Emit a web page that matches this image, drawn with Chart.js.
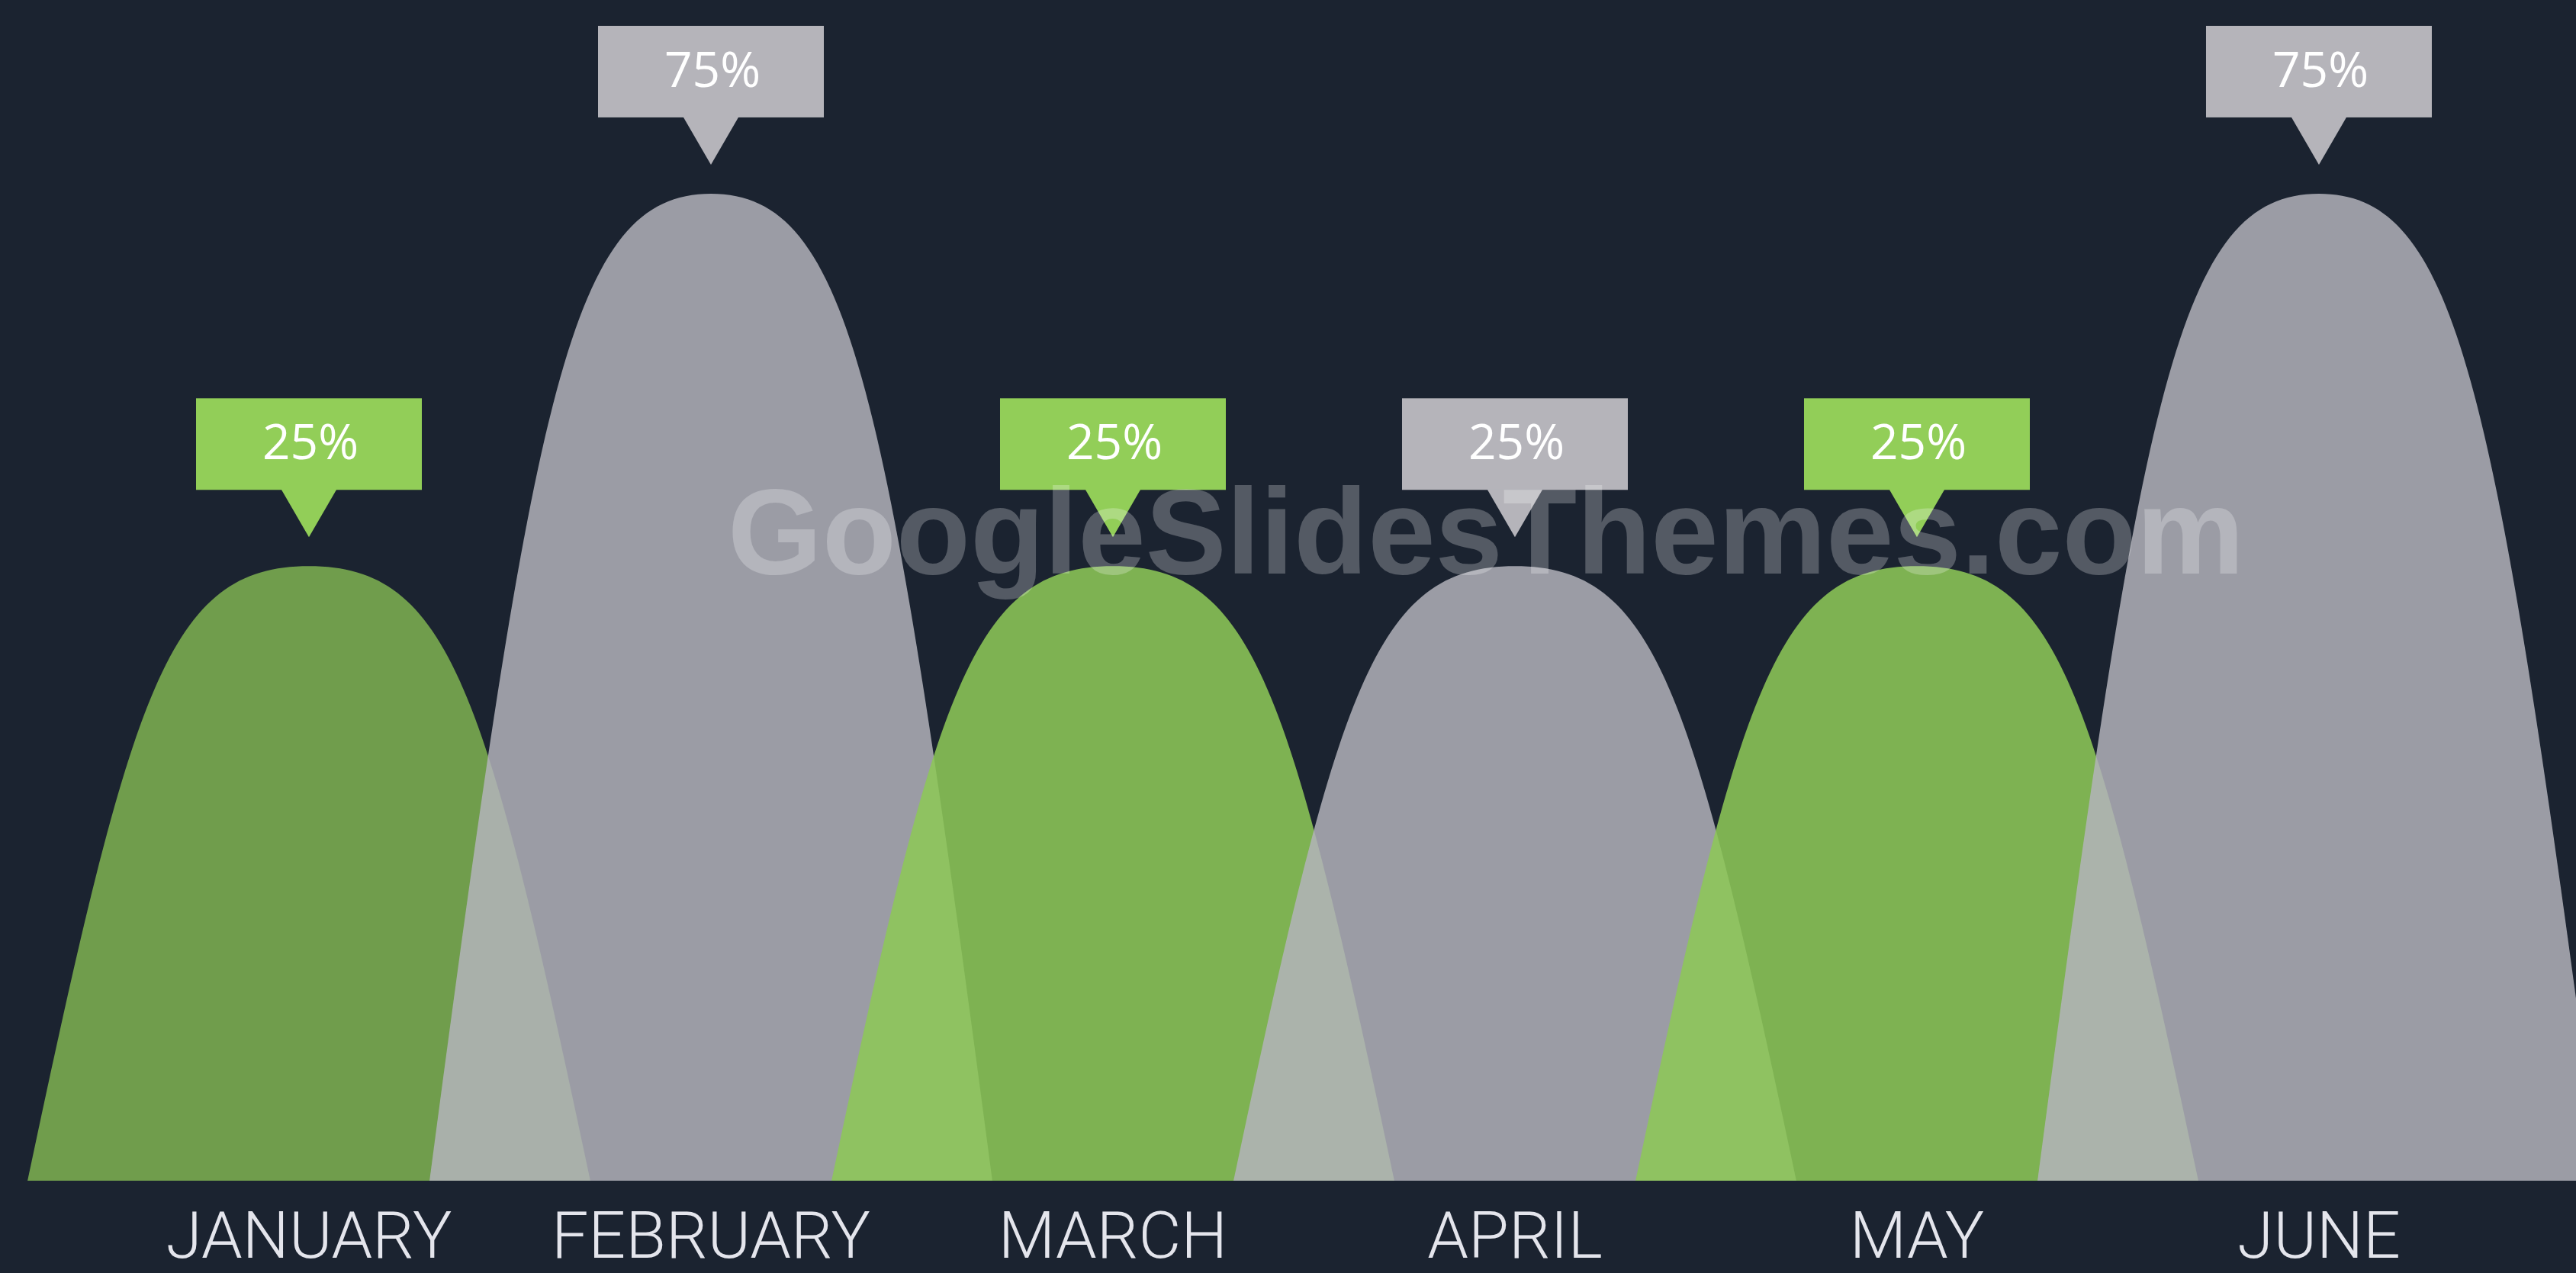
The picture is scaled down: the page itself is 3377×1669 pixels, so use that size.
<!DOCTYPE html>
<html>
<head>
<meta charset="utf-8">
<title>Monthly share</title>
<script src="https://cdn.jsdelivr.net/npm/chart.js@4.4.1/dist/chart.umd.min.js"></script>
<style>
    html, body { margin: 0; padding: 0; background: #1b2330; }
    #wrap { position: relative; width: 3377px; height: 1669px; }
</style>
</head>
<body>
<div id="wrap"><canvas id="bellChart"></canvas></div>

<script>
/* =========================
   DATA
========================= */

const months = ["JANUARY", "FEBRUARY", "MARCH", "APRIL", "MAY", "JUNE"];
const shares = [25, 75, 25, 25, 25, 75];

/* =========================
   STYLE
========================= */

const bellColors = [
    "rgba(141, 200, 87, 0.74)",
    "rgba(180, 180, 188, 0.84)",
    "rgba(141, 200, 87, 0.87)",
    "rgba(180, 180, 188, 0.84)",
    "rgba(141, 200, 87, 0.87)",
    "rgba(180, 180, 188, 0.84)"
];
const calloutColors = ["#92ce58", "#b5b4ba", "#92ce58", "#b5b4ba", "#92ce58", "#b5b4ba"];

const X_MIN = -0.7685;
const X_MAX = 5.6395;
const Y_MIN = -57.5;
const Y_MAX = 101;
const BELL_HALF = 0.7;     // half width of a bell base, in x units
const AXIS_HEIGHT = 121;   // room kept under the bells for month names

/* =========================
   BELL + CALLOUT PLUGIN
========================= */

const bellPlugin = {
    id: "bells",
    afterDatasetsDraw(chart) {

        const { ctx, scales: { x, y } } = chart;
        const meta = chart.getDatasetMeta(0);
        const base = y.getPixelForValue(Y_MIN);

        // bells, left to right so later ones sit on top
        meta.data.forEach((pt, i) => {
            const left = x.getPixelForValue(i - BELL_HALF);
            const right = x.getPixelForValue(i + BELL_HALF);
            const cx = pt.x;
            const top = pt.y;
            const w = cx - left;
            const h = base - top;

            ctx.save();
            ctx.beginPath();
            ctx.moveTo(left, base);
            ctx.bezierCurveTo(left + 0.37 * w, base - 0.8 * h, cx - 0.5 * w, top, cx, top);
            ctx.bezierCurveTo(cx + 0.5 * w, top, right - 0.37 * w, base - 0.8 * h, right, base);
            ctx.closePath();
            ctx.fillStyle = bellColors[i];
            ctx.fill();
            ctx.restore();
        });

        // value callouts above each peak
        meta.data.forEach((pt, i) => {
            const tipY = pt.y - 38;
            const boxW = 296, boxH = 120, arrowW = 73, arrowH = 62;
            const boxBottom = tipY - arrowH;

            ctx.save();
            ctx.fillStyle = calloutColors[i];
            ctx.fillRect(pt.x - boxW / 2, boxBottom - boxH, boxW, boxH);
            ctx.beginPath();
            ctx.moveTo(pt.x - arrowW / 2, boxBottom - 1);
            ctx.lineTo(pt.x + arrowW / 2, boxBottom - 1);
            ctx.lineTo(pt.x, tipY);
            ctx.closePath();
            ctx.fill();

            ctx.fillStyle = "#ffffff";
            ctx.font = '400 64px "Open Sans"';
            ctx.textAlign = "center";
            ctx.textBaseline = "middle";
            ctx.fillText(shares[i] + "%", pt.x + 2, boxBottom - boxH / 2 + 2);
            ctx.restore();
        });

        // site mark across the middle
        ctx.save();
        ctx.fillStyle = "rgba(255, 255, 255, 0.25)";
        ctx.font = 'bold 159px "Liberation Sans"';
        ctx.textAlign = "left";
        ctx.textBaseline = "alphabetic";
        ctx.fillText("GoogleSlidesThemes.com", 954, 752);
        ctx.restore();
    }
};

/* =========================
   CHART
========================= */

new Chart(document.getElementById("bellChart"), {

    type: "line",

    data: {
        datasets: [{
            label: "Share",
            data: shares.map((v, i) => ({ x: i, y: v })),
            showLine: false,
            pointRadius: 0,
            pointHoverRadius: 0
        }]
    },

    options: {
        responsive: true,
        maintainAspectRatio: false,
        animation: false,
        layout: { padding: 0 },
        plugins: {
            legend: { display: false },
            tooltip: { enabled: false }
        },
        scales: {
            x: {
                type: "linear",
                min: X_MIN,
                max: X_MAX,
                grid: { display: false, drawTicks: false },
                border: { display: false },
                afterBuildTicks: axis => {
                    axis.ticks = months.map((m, i) => ({ value: i }));
                },
                afterFit: axis => {
                    axis.height = AXIS_HEIGHT;
                },
                ticks: {
                    autoSkip: false,
                    maxRotation: 0,
                    padding: 37,
                    color: "#e4e5ec",
                    font: { family: "Roboto", weight: 300, size: 86, lineHeight: 0.977 },
                    callback: v => months[v]
                }
            },
            y: {
                display: false,
                min: Y_MIN,
                max: Y_MAX
            }
        }
    },

    plugins: [bellPlugin]

});
</script>
</body>
</html>
